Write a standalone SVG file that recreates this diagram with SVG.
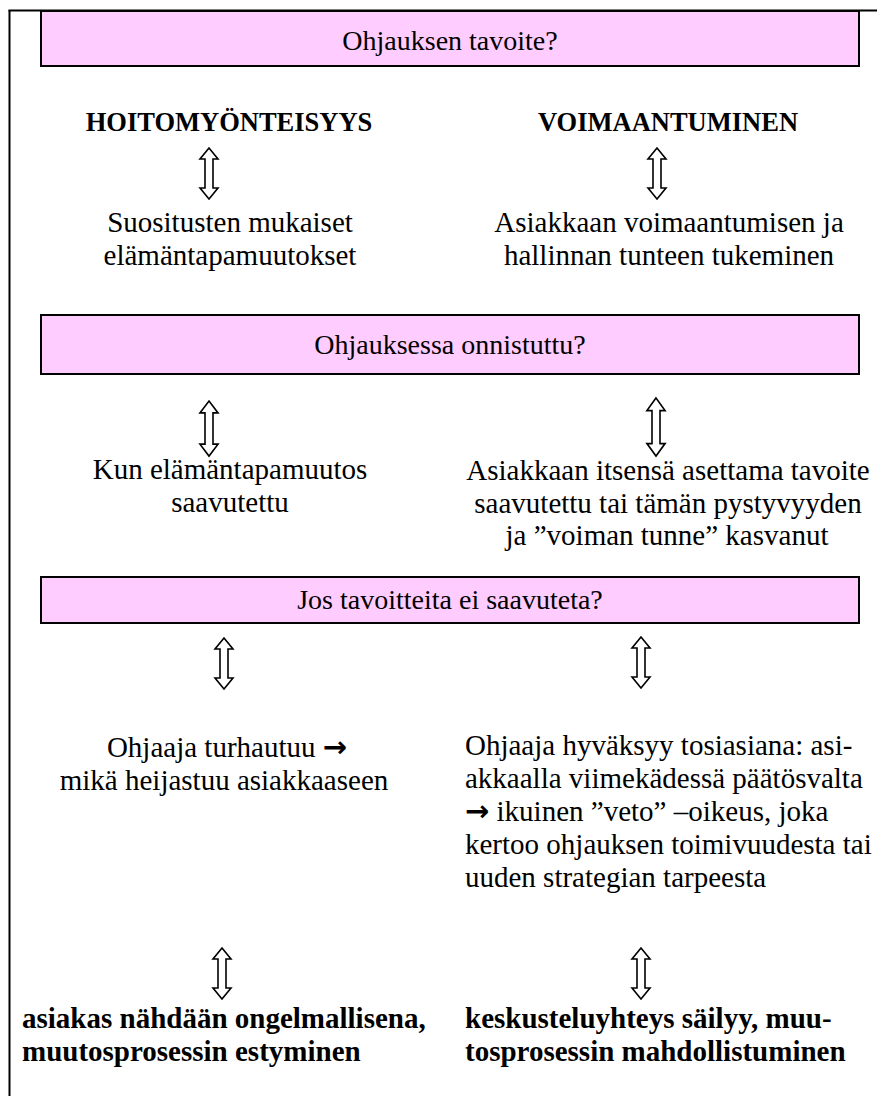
<svg xmlns="http://www.w3.org/2000/svg" xmlns:xlink="http://www.w3.org/1999/xlink" width="877" height="1096" viewBox="0 0 877 1096" font-family="Liberation Serif, Times New Roman, serif">
<style>
.box{fill:#FFCCFF;stroke:#000;stroke-width:2}
.t{font-size:29px}
.bt{font-size:28px;text-anchor:middle}
.h{font-size:26.5px;font-weight:bold}
.hb{font-size:29px;font-weight:bold}
.c{text-anchor:middle}
.ar{font-weight:bold;font-size:29px}
.dbl{fill:#fff;stroke:#000;stroke-width:1.6;stroke-linejoin:miter}
</style>
<defs>
<path id="da" d="M0,0 L9,11 L4,11 L4,40 L9,40 L0,51 L-9,40 L-4,40 L-4,11 L-9,11 Z"/>
</defs>
<rect width="877" height="1096" fill="#fff"/>
<g id="frame">
<line x1="9.5" y1="10" x2="9.5" y2="1096" stroke="#000" stroke-width="2"/>
<line x1="8.5" y1="10.5" x2="877" y2="10.5" stroke="#000" stroke-width="2"/>
</g>
<g id="texts" font-family="Liberation Serif, serif" fill="#000">
<g id="box1"><rect class="box" x="41" y="11" width="818" height="55"/><text class="bt" x="450" y="50">Ohjauksen tavoite?</text></g>
<g id="box2"><rect class="box" x="41" y="315" width="818" height="59"/><text class="bt" x="450" y="354">Ohjauksessa onnistuttu?</text></g>
<g id="box3"><rect class="box" x="41" y="577" width="818" height="46"/><text class="bt" x="450" y="609">Jos tavoitteita ei saavuteta?</text></g>
<g id="head-left"><text class="h c" x="229" y="131">HOITOMYÖNTEISYYS</text></g>
<g id="head-right"><text class="h c" x="668" y="131">VOIMAANTUMINEN</text></g>
<g id="r1-left"><text class="t c" x="230" y="232">Suositusten mukaiset</text><text class="t c" x="230" y="265">elämäntapamuutokset</text></g>
<g id="r1-right"><text class="t c" x="669" y="232">Asiakkaan voimaantumisen ja</text><text class="t c" x="669" y="265">hallinnan tunteen tukeminen</text></g>
<g id="r2-left"><text class="t c" x="230" y="479">Kun elämäntapamuutos</text><text class="t c" x="230" y="512">saavutettu</text></g>
<g id="r2-right"><text class="t c" x="668" y="480">Asiakkaan itsensä asettama tavoite</text><text class="t c" x="668" y="513">saavutettu tai tämän pystyvyyden</text><text class="t c" x="667" y="545">ja ”voiman tunne” kasvanut</text></g>
<g id="r3-left"><text class="t c" x="227" y="757">Ohjaaja turhautuu <tspan class="ar" font-family="DejaVu Sans, sans-serif">→</tspan></text><text class="t c" x="224" y="790">mikä heijastuu asiakkaaseen</text></g>
<g id="r3-right"><text class="t" x="465" y="755">Ohjaaja hyväksyy tosiasiana: asi-</text><text class="t" x="465" y="788">akkaalla viimekädessä päätösvalta</text><text class="t" x="465" y="821"><tspan class="ar" font-family="DejaVu Sans, sans-serif">→</tspan> ikuinen ”veto” –oikeus, joka</text><text class="t" x="465" y="854">kertoo ohjauksen toimivuudesta tai</text><text class="t" x="465" y="887">uuden strategian tarpeesta</text></g>
<g id="r4-left"><text class="hb" x="22" y="1028">asiakas nähdään ongelmallisena,</text><text class="hb" x="22" y="1061">muutosprosessin estyminen</text></g>
<g id="r4-right"><text class="hb" x="465" y="1028">keskusteluyhteys säilyy, muu-</text><text class="hb" x="465" y="1061">tosprosessin mahdollistuminen</text></g>
</g>
<g id="connectors">
<use xlink:href="#da" class="dbl" transform="translate(209,148)"/>
<use xlink:href="#da" class="dbl" transform="translate(657,148)"/>
<use xlink:href="#da" class="dbl" transform="translate(209,401) scale(1,1.08)"/>
<use xlink:href="#da" class="dbl" transform="translate(656,398) scale(1,1.14)"/>
<use xlink:href="#da" class="dbl" transform="translate(224,638)"/>
<use xlink:href="#da" class="dbl" transform="translate(641,637)"/>
<use xlink:href="#da" class="dbl" transform="translate(222,948)"/>
<use xlink:href="#da" class="dbl" transform="translate(641,948)"/>
</g>
</svg>
